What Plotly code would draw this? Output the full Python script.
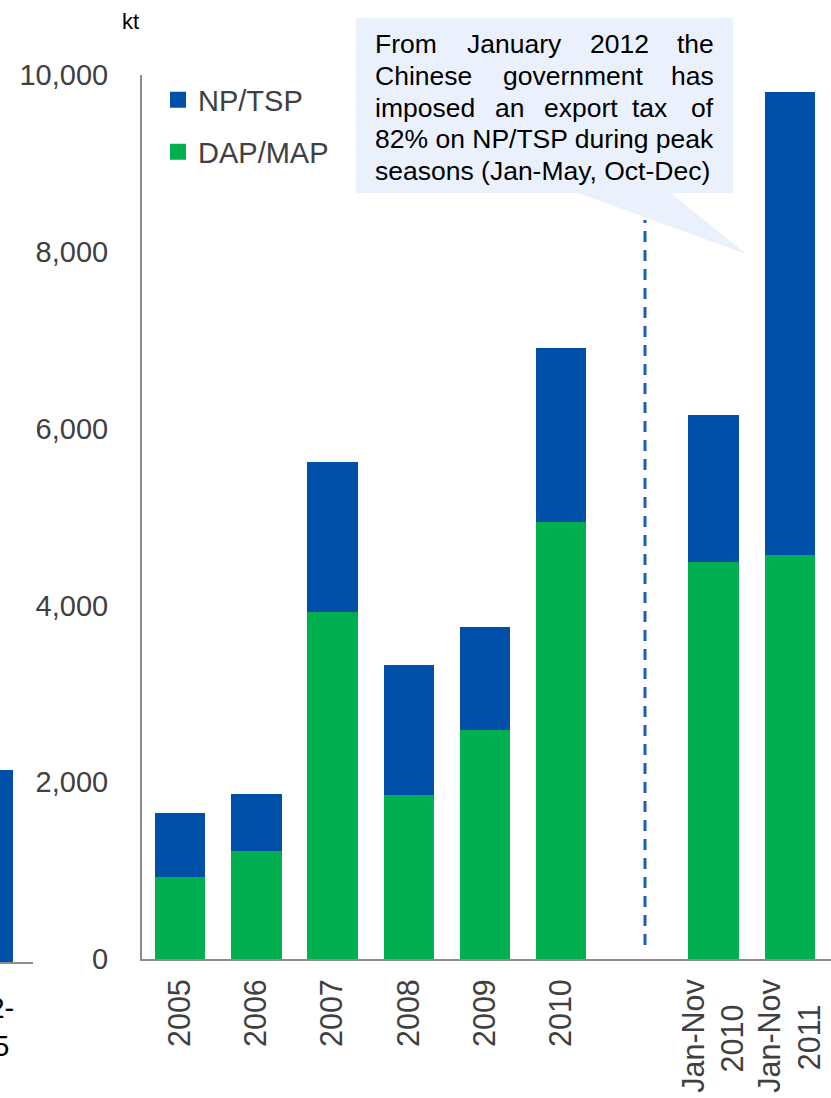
import plotly.graph_objects as go

W, H = 831, 1098

# ---------------- data ----------------
categories = ["2005", "2006", "2007", "2008", "2009", "2010", " ", "Jan-Nov 2010", "Jan-Nov 2011"]
bar_categories = ["2005", "2006", "2007", "2008", "2009", "2010", "Jan-Nov 2010", "Jan-Nov 2011"]
tick_labels = ["2005", "2006", "2007", "2008", "2009", "2010", " ",
               "Jan-Nov<br>2010&nbsp;&nbsp;&nbsp;", "Jan-Nov<br>2011&nbsp;&nbsp;&nbsp;"]
dap_map = [923, 1220, 3921, 1853, 2588, 4938, 4486, 4565]
np_tsp = [723, 644, 1706, 1469, 1163, 1977, 1672, 5243]

# clipped neighbour chart at the far left
left_categories = ["2002-2005"]
left_np_tsp = [2172]

y_ticks = [0, 2000, 4000, 6000, 8000, 10000]

callout_lines = [
    ["From", "January", "2012", "the"],
    ["Chinese", "government", "has"],
    ["imposed", "an", "export", "tax", "of"],
    ["82% on NP/TSP during peak"],
    ["seasons (Jan-May, Oct-Dec)"],
]
callout_word_left = [
    [374, 466, 589, None],
    [374, 502, None],
    [374, 494, 543, 631, None],
    [374],
    [374],
]
callout_line_y = [44, 76, 107.5, 139, 171]

BLUE = "#0050AA"
GREEN = "#00B050"
AXIS = "#8C8C8C"
TXT = "#404040"
FONT = "Liberation Sans, Arial, sans-serif"


def px(x):
    return x / W


def py(y):
    return 1 - y / H


fig = go.Figure()

fig.add_trace(go.Bar(x=bar_categories, y=dap_map, name="DAP/MAP", marker=dict(color=GREEN, line=dict(width=0)),
                     showlegend=False, xaxis="x", yaxis="y"))
fig.add_trace(go.Bar(x=bar_categories, y=np_tsp, name="NP/TSP", marker=dict(color=BLUE, line=dict(width=0)),
                     showlegend=False, xaxis="x", yaxis="y"))

fig.add_trace(go.Bar(x=left_categories, y=left_np_tsp, name="left", marker=dict(color=BLUE, line=dict(width=0)),
                     showlegend=False, xaxis="x2", yaxis="y2"))

# legend proxies
fig.add_trace(go.Scatter(x=[None], y=[None], mode="markers", name="NP/TSP",
                         marker=dict(symbol="square", size=17, color=BLUE), legend="legend"))
fig.add_trace(go.Scatter(x=[None], y=[None], mode="markers", name="DAP/MAP",
                         marker=dict(symbol="square", size=17, color=GREEN), legend="legend2"))

x_right = (831 - 180.3) / 76.2

shapes = [
    dict(type="rect", xref="paper", yref="paper", x0=px(356), x1=px(733), y0=py(193), y1=py(18),
         fillcolor="#EAF1FC", line=dict(width=0), layer="above"),
    dict(type="path", xref="paper", yref="paper",
         path=f"M {px(577)},{py(192.5)} L {px(670)},{py(192.5)} L {px(746)},{py(254)} Z",
         fillcolor="#EAF1FC", line=dict(width=0), layer="above"),
    dict(type="line", xref="paper", yref="paper", x0=px(645), x1=px(645), y0=py(945), y1=py(220),
         line=dict(color="#1A5FBF", width=3, dash="11px,8px"), layer="above"),
]

annotations = [
    dict(text="kt", xref="paper", yref="paper", x=px(130), y=py(21), xanchor="center", yanchor="middle",
         showarrow=False, font=dict(size=22, color="#000000", family=FONT)),
    dict(text="2002-<br>2005", xref="paper", yref="paper", x=px(16), y=py(990), xanchor="right", yanchor="top",
         showarrow=False, align="center", font=dict(size=29, color="#000000", family=FONT)),
]

for words, lefts, yc in zip(callout_lines, callout_word_left, callout_line_y):
    for w, lx in zip(words, lefts):
        if lx is None:
            annotations.append(dict(text=w, xref="paper", yref="paper", x=px(715), y=py(yc), xanchor="right",
                                    yanchor="middle", showarrow=False, borderpad=0,
                                    font=dict(size=26.5, color="#000000", family=FONT)))
        else:
            annotations.append(dict(text=w, xref="paper", yref="paper", x=px(lx), y=py(yc), xanchor="left",
                                    yanchor="middle", showarrow=False, borderpad=0,
                                    font=dict(size=26.5, color="#000000", family=FONT)))

fig.update_layout(
    width=W, height=H,
    margin=dict(l=0, r=0, t=0, b=0),
    paper_bgcolor="white", plot_bgcolor="rgba(0,0,0,0)",
    barmode="stack", bargap=0.337,
    font=dict(family=FONT, color=TXT, size=29),
    xaxis=dict(domain=[px(142), 1], type="category", categoryorder="array", categoryarray=categories,
               tickmode="array", tickvals=categories, ticktext=tick_labels,
               range=[-0.5, x_right], showline=True, linecolor=AXIS, linewidth=2, ticks="",
               tickangle=-90, tickfont=dict(size=30.5, color=TXT, family=FONT), ticklabelstandoff=6,
               showgrid=False, zeroline=False, automargin=False, fixedrange=True),
    yaxis=dict(domain=[py(959), py(75)], range=[0, 10000], tickvals=y_ticks, tickformat=",",
               showline=True, linecolor=AXIS, linewidth=2, ticks="", ticklabelstandoff=26,
               tickfont=dict(size=29, color=TXT, family=FONT), showgrid=False, zeroline=False,
               automargin=False, fixedrange=True),
    xaxis2=dict(domain=[0, px(33)], type="category", range=[0, 0.83], showline=True, linecolor=AXIS,
                linewidth=2, showticklabels=False, ticks="", showgrid=False, zeroline=False,
                anchor="y2", automargin=False, fixedrange=True),
    yaxis2=dict(domain=[py(962), py(78)], range=[0, 10000], visible=False, anchor="x2", automargin=False,
                fixedrange=True),
    legend=dict(x=px(158), y=py(100), xanchor="left", yanchor="middle", bgcolor="rgba(0,0,0,0)",
                font=dict(size=29, color=TXT, family=FONT), itemwidth=30),
    legend2=dict(x=px(158), y=py(152), xanchor="left", yanchor="middle", bgcolor="rgba(0,0,0,0)",
                 font=dict(size=29, color=TXT, family=FONT), itemwidth=30),
    shapes=shapes,
    annotations=annotations,
    showlegend=True,
)

fig.write_html("out.html", config={"displayModeBar": False},
               post_script="document.body.style.margin='0';document.body.style.overflow='hidden';")
